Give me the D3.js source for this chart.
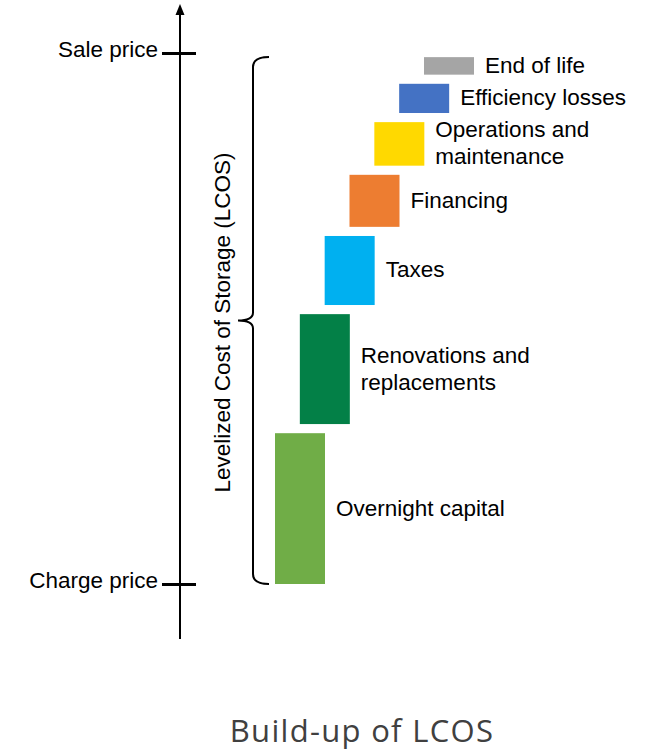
<!DOCTYPE html>
<html>
<head>
<meta charset="utf-8">
<script src="https://cdn.jsdelivr.net/npm/d3@7"></script>
<style>
  html, body { margin: 0; padding: 0; background: #ffffff; }
  svg { display: block; }
</style>
</head>
<body>
<svg id="chart" width="654" height="750"></svg>
<script>
// Cost components, stacked from the charge price upward (value units: charge = 0, sale = 100)
const components = ["Overnight capital", "Renovations and replacements", "Taxes", "Financing",
                    "Operations and maintenance", "Efficiency losses", "End of life"];
const componentLines = [["Overnight capital"], ["Renovations and", "replacements"], ["Taxes"], ["Financing"],
                        ["Operations and", "maintenance"], ["Efficiency losses"], ["End of life"]];
const componentValues = [28.4, 20.7, 13.0, 9.8, 8.2, 5.5, 3.3];
const componentColors = ["#70AD47", "#038047", "#00B0F0", "#ED7D31", "#FFD900", "#4472C4", "#A5A5A5"];

// Price levels on the vertical axis
const priceTicks = [0, 100];
const priceTickLabels = ["Charge price", "Sale price"];

const axisTitle = "Levelized Cost of Storage (LCOS)";
const chartTitle = "Build-up of LCOS";

// Layout
const font = "'Liberation Sans', Arial, Helvetica, sans-serif";
const fontSize = 22.5;
const axisX = 180;
const gapUnits = 1.72;   // visual gap between consecutive steps
const barWidth = 50;
const labelPad = 11;

const svg = d3.select("#chart");

const y = d3.scaleLinear().domain([0, 100]).range([584, 53]);
const x = d3.scaleLinear().domain([0, components.length - 1]).range([275, 424]);

// Build the waterfall steps
let cum = 0;
const steps = componentValues.map((v, i) => {
  const s = { name: components[i], lines: componentLines[i], color: componentColors[i], i,
              start: cum, end: cum + v };
  cum = s.end + gapUnits;
  return s;
});

// Vertical axis with crossing ticks
const axisG = svg.append("g").attr("transform", `translate(${axisX},0)`);
axisG.call(d3.axisLeft(y).tickValues(priceTicks)
  .tickFormat((d, i) => priceTickLabels[i]).tickSize(0).tickPadding(22));
axisG.select(".domain").remove();
axisG.selectAll(".tick line")
  .attr("x1", -18).attr("x2", 16)
  .attr("stroke", "#000").attr("stroke-width", 3);
axisG.selectAll(".tick text")
  .attr("font-family", font).attr("font-size", fontSize)
  .attr("fill", "#000").attr("dy", 0).attr("y", 3);

axisG.append("line")
  .attr("x1", 0).attr("x2", 0)
  .attr("y1", 639).attr("y2", 13)
  .attr("stroke", "#000").attr("stroke-width", 2);
axisG.append("path")
  .attr("d", "M0,4 L-4.5,15 L4.5,15 Z")
  .attr("fill", "#000");

// Curly brace spanning the LCOS range
const bTop = y(100) + 4, bBot = y(0), bMid = (y(100) + y(0)) / 2 + 2;
const bx = 253, bEnd = 269, bTip = 238;
svg.append("path")
  .attr("d", `M${bEnd},${bTop} Q${bx},${bTop} ${bx},${bTop + 10}
              L${bx},${bMid - 8} Q${bx},${bMid} ${bTip},${bMid}
              Q${bx},${bMid} ${bx},${bMid + 8}
              L${bx},${bBot - 10} Q${bx},${bBot} ${bEnd},${bBot}`)
  .attr("fill", "none").attr("stroke", "#000").attr("stroke-width", 2);

// Axis title, rotated alongside the brace
svg.append("text")
  .attr("transform", `translate(230,${bMid + 2}) rotate(-90)`)
  .attr("text-anchor", "middle")
  .attr("font-family", font).attr("font-size", fontSize)
  .attr("fill", "#000")
  .text(axisTitle);

// Waterfall bars
svg.append("g").selectAll("rect")
  .data(steps).join("rect")
  .attr("x", d => x(d.i))
  .attr("width", barWidth)
  .attr("y", d => y(d.end))
  .attr("height", d => y(d.start) - y(d.end))
  .attr("fill", d => d.color);

// Bar labels, vertically centred on each bar
const lineH = 27;
const labels = svg.append("g").selectAll("text")
  .data(steps).join("text")
  .attr("font-family", font).attr("font-size", fontSize).attr("fill", "#000")
  .attr("x", d => x(d.i) + barWidth + labelPad)
  .attr("y", d => (y(d.start) + y(d.end)) / 2 + 7 - (d.lines.length - 1) * lineH / 2);
labels.selectAll("tspan")
  .data(d => d.lines.map(t => ({ t, x: x(d.i) + barWidth + labelPad })))
  .join("tspan")
  .attr("x", d => d.x)
  .attr("dy", (d, j) => j === 0 ? 0 : lineH)
  .text(d => d.t);

// Chart title
svg.append("text")
  .attr("x", 362).attr("y", 742)
  .attr("text-anchor", "middle")
  .attr("font-family", "'Open Sans', 'Noto Sans', sans-serif")
  .attr("font-size", 31)
  .attr("letter-spacing", 1.3)
  .attr("fill", "#404040")
  .text(chartTitle);
</script>
</body>
</html>
